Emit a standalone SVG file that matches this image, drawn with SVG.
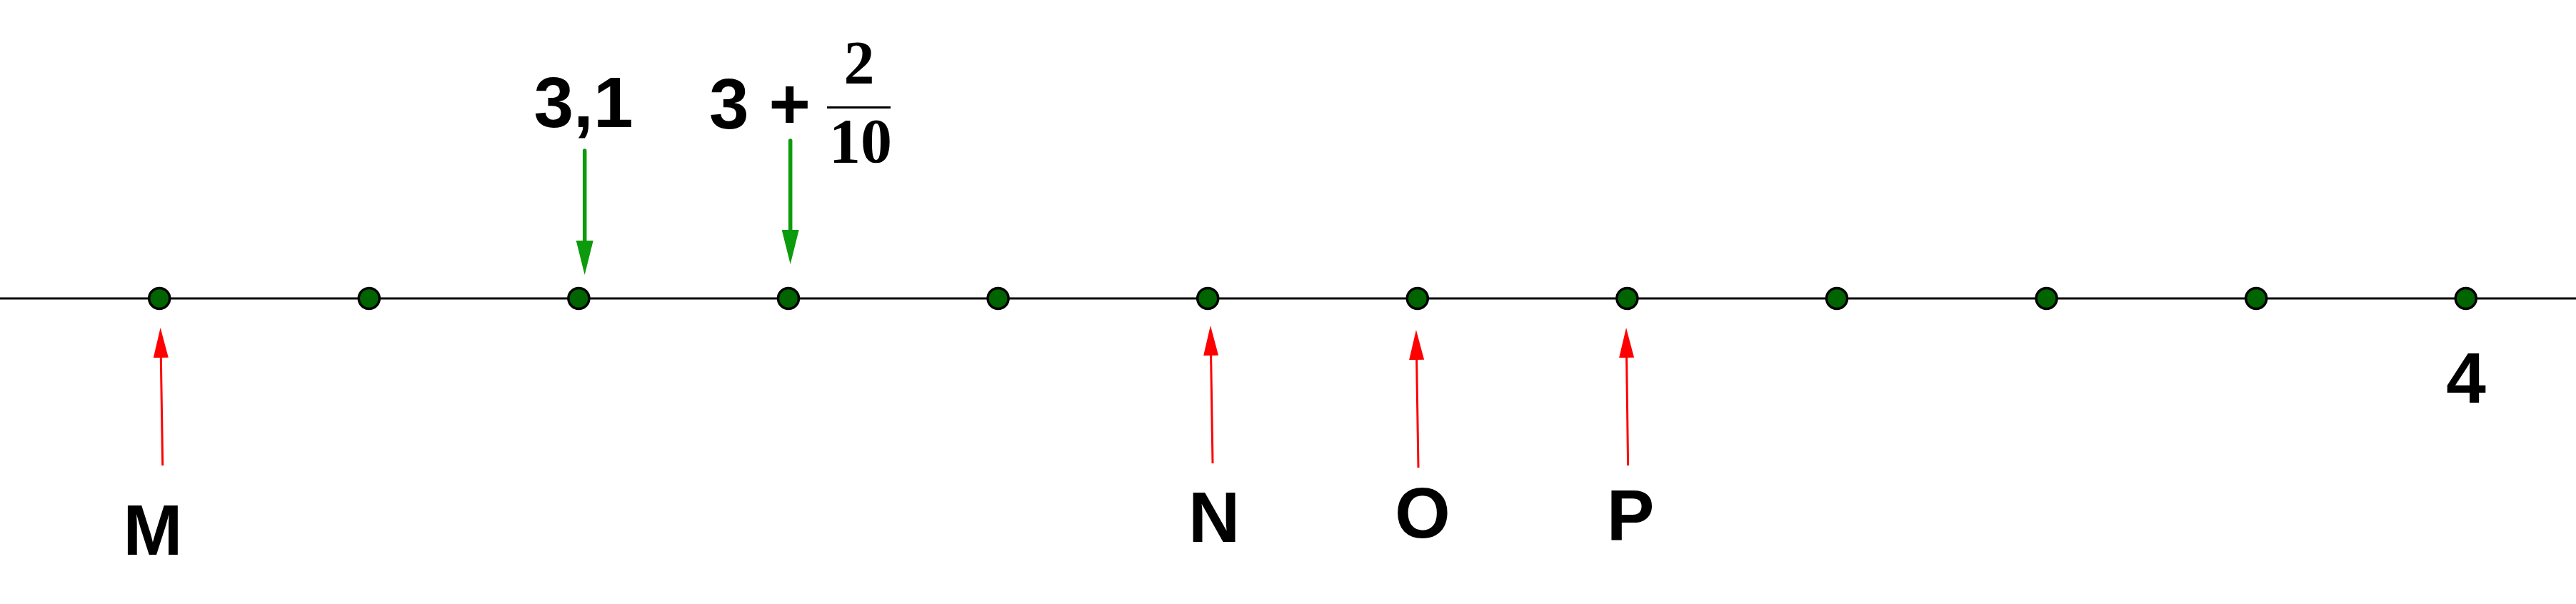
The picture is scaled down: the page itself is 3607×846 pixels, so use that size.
<svg xmlns="http://www.w3.org/2000/svg" width="3607" height="846" viewBox="0 0 3607 846">
<style>
.axis{stroke:#000;stroke-width:3;fill:none}
.dot{fill:#006400;stroke:#000;stroke-width:3.5}
.red{stroke:#ff0000;stroke-width:3;fill:none}
.grn{stroke:#0d9a0d;stroke-width:5.5;fill:none;stroke-linecap:round}
.lbl{font-family:"Liberation Sans",Arial,sans-serif;font-weight:bold;font-size:100px;fill:#000;text-anchor:middle}
.frac{font-family:"Liberation Serif","Times New Roman",serif;font-weight:bold;font-size:86px;fill:#000;text-anchor:middle}
</style>
<defs>
<marker id="hr" markerUnits="userSpaceOnUse" viewBox="0 -11 42 22" markerWidth="42" markerHeight="22" refX="0" refY="0" orient="auto">
<path d="M0,-10.5 L42,0 L0,10.5 Z" fill="#ff0000"/>
</marker>
<marker id="hg" markerUnits="userSpaceOnUse" viewBox="0 -12 48 24" markerWidth="48" markerHeight="24" refX="0" refY="0" orient="auto">
<path d="M0,-12 L48,0 L0,12 Z" fill="#0d9a0d"/>
</marker>
</defs>
<rect width="3607" height="846" fill="#fff"/>
<line id="axis" class="axis" x1="0" y1="418" x2="3607" y2="418"/>
<g id="connectors">
<line class="red" x1="227.7" y1="652" x2="225.3" y2="501" marker-end="url(#hr)"/>
<line class="red" x1="1698" y1="649" x2="1695.6" y2="498" marker-end="url(#hr)"/>
<line class="red" x1="1986" y1="655" x2="1983.6" y2="504" marker-end="url(#hr)"/>
<line class="red" x1="2279.6" y1="652" x2="2277.6" y2="501" marker-end="url(#hr)"/>
<line class="grn" x1="818.7" y1="211" x2="818.7" y2="337" marker-end="url(#hg)"/>
<line class="grn" x1="1106.7" y1="197" x2="1106.7" y2="322" marker-end="url(#hg)"/>
</g>
<g id="dots">
<circle id="d0" class="dot" cx="223.2" cy="418" r="14.5"/>
<circle id="d1" class="dot" cx="516.8" cy="418" r="14.5"/>
<circle id="d2" class="dot" cx="810.4" cy="418" r="14.5"/>
<circle id="d3" class="dot" cx="1104" cy="418" r="14.5"/>
<circle id="d4" class="dot" cx="1397.6" cy="418" r="14.5"/>
<circle id="d5" class="dot" cx="1691.2" cy="418" r="14.5"/>
<circle id="d6" class="dot" cx="1984.8" cy="418" r="14.5"/>
<circle id="d7" class="dot" cx="2278.4" cy="418" r="14.5"/>
<circle id="d8" class="dot" cx="2572" cy="418" r="14.5"/>
<circle id="d9" class="dot" cx="2865.6" cy="418" r="14.5"/>
<circle id="d10" class="dot" cx="3159.2" cy="418" r="14.5"/>
<circle id="d11" class="dot" cx="3452.8" cy="418" r="14.5"/>
</g>
<g id="label-31"><text class="lbl" x="817" y="178">3,1</text></g>
<g id="label-3plus">
<text class="lbl" x="993" y="180" style="text-anchor:start">3 +</text>
<line x1="1158" y1="150.5" x2="1247" y2="150.5" stroke="#000" stroke-width="3"/>
<text class="frac" x="1203" y="117">2</text>
<text class="frac" x="1205" y="227" style="font-size:88px">10</text>
</g>
<g id="label-M"><text class="lbl" x="214" y="777">M</text></g>
<g id="label-N"><text class="lbl" x="1700" y="759">N</text></g>
<g id="label-O"><text class="lbl" x="1992" y="753">O</text></g>
<g id="label-P"><text class="lbl" x="2283" y="756">P</text></g>
<g id="label-4"><text class="lbl" x="3453" y="564">4</text></g>
</svg>
